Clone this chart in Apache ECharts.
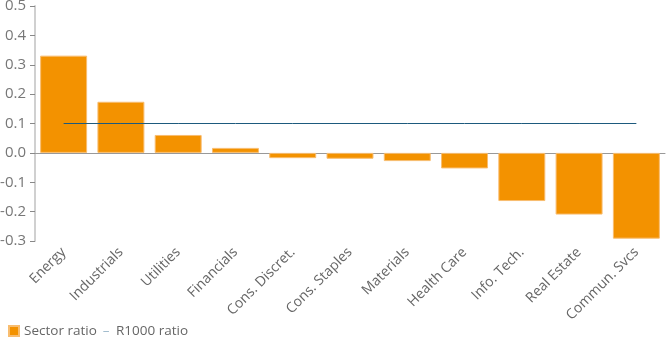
<!DOCTYPE html>
<html>
<head>
<meta charset="utf-8">
<script src="https://cdn.jsdelivr.net/npm/echarts@6/dist/echarts.min.js"></script>
<style>
  html, body { margin: 0; padding: 0; background: #fff; }
  #chart { width: 670px; height: 337px; }
</style>
</head>
<body>
<div id="chart"></div>
<script>
// Sectors, ordered by relative ratio
const sectors = ['Energy', 'Industrials', 'Utilities', 'Financials', 'Cons. Discret.',
  'Cons. Staples', 'Materials', 'Health Care', 'Info. Tech.', 'Real Estate', 'Commun. Svcs'];
const sectorRatio = [0.331, 0.174, 0.061, 0.017, -0.018, -0.02, -0.028, -0.053, -0.164, -0.21, -0.292];
const r1000Ratio = [0.1, 0.1, 0.1, 0.1, 0.1, 0.1, 0.1, 0.1, 0.1, 0.1, 0.1];
const yTicks = { min: -0.3, max: 0.5, step: 0.1 };

const FONT = '"Open Sans", sans-serif';
const chart = echarts.init(document.getElementById('chart'), null, { renderer: 'canvas' });

chart.setOption({
  animation: false,
  textStyle: { fontFamily: FONT },
  grid: { left: 35, right: 5, top: 6, bottom: 96, containLabel: false, outerBoundsMode: 'none' },
  legend: {
    left: 3,
    top: 319,
    itemWidth: 10,
    itemHeight: 10,
    itemGap: -9,
    textStyle: {
      color: '#666', fontSize: 13.5, fontFamily: FONT,
      rich: { dash: { color: '#9db9cb', fontSize: 13.5, fontFamily: FONT, padding: [0, 3, 0, 0] } }
    },
    formatter: name => name === 'R1000 ratio' ? '{dash|–} ' + name : name,
    data: [
      { name: 'Sector ratio', icon: 'rect' },
      { name: 'R1000 ratio', icon: 'none' }
    ]
  },
  xAxis: {
    type: 'category',
    data: sectors,
    axisLine: { onZero: true, lineStyle: { color: '#999', width: 1 } },
    axisTick: { show: false },
    axisLabel: { rotate: 45, color: '#666', fontSize: 14, fontFamily: FONT, margin: 9, interval: 0 }
  },
  yAxis: {
    type: 'value',
    min: yTicks.min,
    max: yTicks.max,
    interval: yTicks.step,
    splitLine: { show: false },
    axisLine: { show: true, lineStyle: { color: '#d0d0d0', width: 2 } },
    axisTick: { show: true, length: 5, lineStyle: { color: '#888' } },
    axisLabel: {
      color: '#777', fontSize: 15, fontFamily: FONT, margin: 9,
      formatter: v => v.toFixed(1)
    }
  },
  series: [
    {
      name: 'Sector ratio',
      type: 'bar',
      data: sectorRatio,
      barCategoryGap: '18%',
      itemStyle: { color: '#f39200', borderColor: '#f8bd70', borderWidth: 1 }
    },
    {
      name: 'R1000 ratio',
      type: 'line',
      data: r1000Ratio,
      symbol: 'none',
      lineStyle: { color: '#1d5a7d', width: 1 },
      itemStyle: { color: '#1d5a7d' },
      z: 3
    }
  ]
});
</script>
</body>
</html>
